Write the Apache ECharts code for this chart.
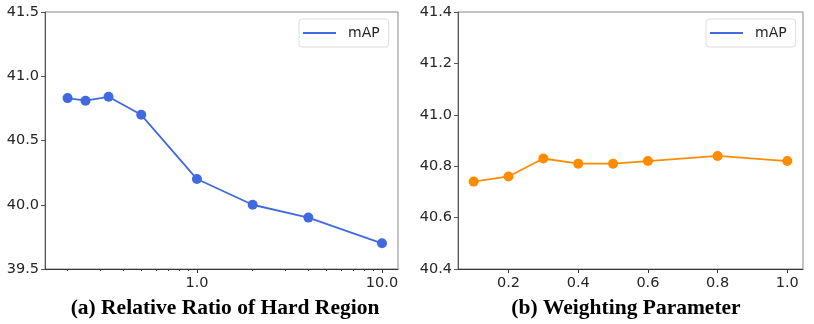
<!DOCTYPE html>
<html>
<head>
<meta charset="utf-8">
<script src="https://cdn.jsdelivr.net/npm/echarts@6/dist/echarts.min.js"></script>
<style>
  html, body { margin: 0; padding: 0; background: #fff; }
  #main { width: 814px; height: 324px; }
</style>
</head>
<body>
<div id="main"></div>
<script>
// (a) relative ratio of hard region (log x)
const ratioX = [0.2, 0.25, 0.333, 0.5, 1, 2, 4, 10];
const ratioMAP = [40.83, 40.81, 40.84, 40.70, 40.20, 40.00, 39.90, 39.70];
// (b) weighting parameter
const weightX = [0.1, 0.2, 0.3, 0.4, 0.5, 0.6, 0.8, 1.0];
const weightMAP = [40.74, 40.76, 40.83, 40.81, 40.81, 40.82, 40.84, 40.82];

const logMajor = [1, 10];
const logMinor = [0.2, 0.3, 0.4, 0.5, 0.6, 0.7, 0.8, 0.9, 2, 3, 4, 5, 6, 7, 8, 9];
const linTicks = [0.2, 0.4, 0.6, 0.8, 1.0];
const titles = ["(a) Relative Ratio of Hard Region", "(b) Weighting Parameter"];

const labelStyle = { fontFamily: "DejaVu Sans", fontSize: 14.5, color: "#262626" };
const titleStyle = { fontFamily: "Liberation Serif", fontWeight: "bold", fontSize: 21.5, color: "#000" };

let myChart = echarts.init(document.getElementById("main"));
let option = {
  animation: false,
  title: [
    { text: titles[0], left: 220, top: 292, textAlign: "center", textStyle: titleStyle },
    { text: titles[1], left: 621, top: 292, textAlign: "center", textStyle: titleStyle },
  ],
  legend: [
    {
      data: ["mAP"], left: 299, top: 19,
      icon: "rect", itemWidth: 33, itemHeight: 2,
      padding: [7, 9, 7, 4],
      backgroundColor: "#fff", borderColor: "#ddd", borderWidth: 1, borderRadius: 3,
      textStyle: Object.assign({ padding: [0, 0, 0, 7] }, labelStyle, { fontSize: 14 }),
    },
    {
      data: ["mAP"], left: 706, top: 19,
      icon: "rect", itemWidth: 33, itemHeight: 2,
      padding: [7, 9, 7, 4],
      backgroundColor: "#fff", borderColor: "#ddd", borderWidth: 1, borderRadius: 3,
      textStyle: Object.assign({ padding: [0, 0, 0, 7] }, labelStyle, { fontSize: 14 }),
    },
  ],
  grid: [
    { left: 45, top: 12, width: 353, height: 257, show: true, borderColor: "#888", borderWidth: 1 },
    { left: 458, top: 12, width: 345, height: 257, show: true, borderColor: "#888", borderWidth: 1 },
  ],
  xAxis: [
    {
      type: "log", gridIndex: 0, position: "bottom", min: 0.151, max: 12.2,
      axisLine: { lineStyle: { color: "#333", width: 1 } },
      axisTick: { customValues: logMajor, length: 4, lineStyle: { color: "#333" } },
      axisLabel: Object.assign({ customValues: logMajor, margin: 7, formatter: v => Number(v).toFixed(1) }, labelStyle),
      splitLine: { show: false },
    },
    {
      type: "log", gridIndex: 0, position: "bottom", min: 0.151, max: 12.2,
      axisLine: { show: false },
      axisTick: { customValues: logMinor, length: 2, lineStyle: { color: "#333" } },
      axisLabel: { show: false },
      splitLine: { show: false },
    },
    {
      type: "value", gridIndex: 1, position: "bottom", min: 0.055, max: 1.045,
      axisLine: { lineStyle: { color: "#333", width: 1 } },
      axisTick: { customValues: linTicks, length: 4, lineStyle: { color: "#333" } },
      axisLabel: Object.assign({ customValues: linTicks, margin: 7, formatter: v => v.toFixed(1) }, labelStyle),
      splitLine: { show: false },
    },
  ],
  yAxis: [
    {
      type: "value", gridIndex: 0, min: 39.5, max: 41.5, interval: 0.5,
      axisLine: { show: true, lineStyle: { color: "#555" } },
      axisTick: { show: true, length: 4, lineStyle: { color: "#555" } },
      axisLabel: Object.assign({ margin: 6, formatter: v => v.toFixed(1) }, labelStyle),
      splitLine: { show: false },
    },
    {
      type: "value", gridIndex: 1, min: 40.4, max: 41.4, interval: 0.2,
      axisLine: { show: true, lineStyle: { color: "#555" } },
      axisTick: { show: true, length: 4, lineStyle: { color: "#555" } },
      axisLabel: Object.assign({ margin: 6, formatter: v => v.toFixed(1) }, labelStyle),
      splitLine: { show: false },
    },
  ],
  series: [
    {
      name: "mAP", type: "line", xAxisIndex: 0, yAxisIndex: 0,
      data: ratioX.map((x, i) => [x, ratioMAP[i]]),
      symbol: "circle", symbolSize: 10,
      lineStyle: { color: "#4169e1", width: 1.8 },
      itemStyle: { color: "#4169e1" },
    },
    {
      name: "mAP", type: "line", xAxisIndex: 2, yAxisIndex: 1,
      data: weightX.map((x, i) => [x, weightMAP[i]]),
      symbol: "circle", symbolSize: 10,
      lineStyle: { color: "#ff8c00", width: 1.8 },
      itemStyle: { color: "#ff8c00" },
    },
  ],
};
option && myChart.setOption(option);
</script>
</body>
</html>
